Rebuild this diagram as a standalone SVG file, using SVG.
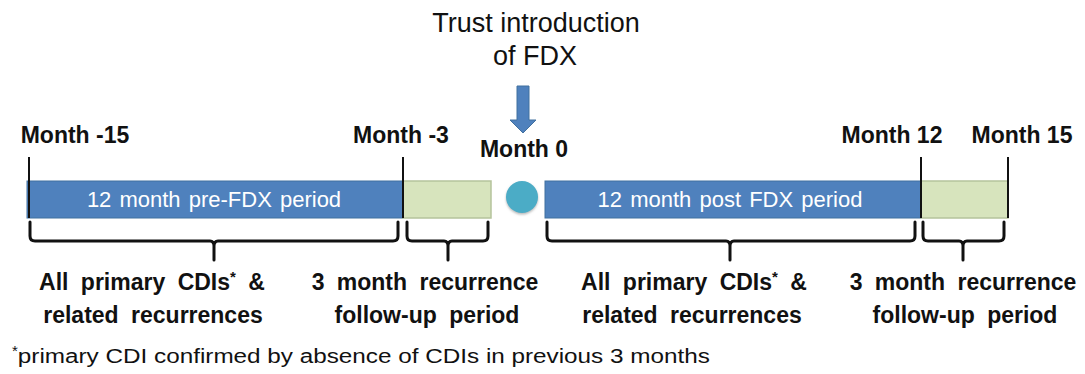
<svg xmlns="http://www.w3.org/2000/svg" width="1085" height="374" viewBox="0 0 1085 374">
<defs>
<style>
.t{font-family:"Liberation Sans",Arial,sans-serif;fill:#111}
.mo{font-size:23px;font-weight:bold;text-anchor:middle}
.lab{font-size:23px;font-weight:bold;text-anchor:middle;word-spacing:6px}
.top{font-size:27px;text-anchor:middle}
.bt{font-family:"Liberation Sans",Arial,sans-serif;font-size:22px;fill:#fff;text-anchor:middle;word-spacing:2px}
.blue{fill:#4f81bd;stroke:#41709f;stroke-width:1}
.green{fill:#d7e4bd;stroke:#b5c39c;stroke-width:1.5}
.tick{stroke:#111;stroke-width:2}
.brace{fill:none;stroke:#111;stroke-width:3;stroke-linecap:round;stroke-linejoin:round}
.sup{font-size:15px}
</style>
<filter id="sh" x="-30%" y="-30%" width="160%" height="160%">
<feDropShadow dx="0" dy="1.5" stdDeviation="1.2" flood-color="#888" flood-opacity="0.6"/>
</filter>
</defs>

<g id="title">
<text class="t top" x="536" y="32">Trust introduction</text>
<text class="t top" x="535" y="65">of FDX</text>
</g>

<g id="arrow">
<path d="M517,86 H529 V120 H536 L523,133 L510,120 H517 Z" fill="#4f81bd" stroke="#41709f" stroke-width="1"/>
</g>

<g id="month-labels">
<text class="t mo" x="75" y="143">Month -15</text>
<text class="t mo" x="401" y="143">Month -3</text>
<text class="t mo" x="524" y="157">Month 0</text>
<text class="t mo" x="892" y="143">Month 12</text>
<text class="t mo" x="1022" y="143">Month 15</text>
</g>

<g id="pre-period">
<rect class="blue" x="27" y="181" width="376" height="37"/>
<text class="bt" x="214" y="207">12 month pre-FDX period</text>
</g>
<g id="pre-followup">
<rect class="green" x="403" y="181" width="88" height="37"/>
</g>
<g id="month0">
<circle cx="522" cy="197" r="16" fill="#4bacc6" filter="url(#sh)"/>
</g>
<g id="post-period">
<rect class="blue" x="545" y="181" width="376" height="37"/>
<text class="bt" x="730" y="207">12 month post FDX period</text>
</g>
<g id="post-followup">
<rect class="green" x="921" y="181" width="87" height="37"/>
</g>

<g id="connectors">
<line class="tick" x1="29" y1="157" x2="29" y2="218"/>
<line class="tick" x1="403" y1="157" x2="403" y2="218"/>
<line class="tick" x1="921" y1="157" x2="921" y2="218"/>
<line class="tick" x1="1008" y1="157" x2="1008" y2="218"/>
<path class="brace" d="M30,222 V236 Q30,241 35,241 H210 Q214,241 214,246 V260 M214,246 Q214,241 218,241 H393 Q398,241 398,236 V222"/>
<path class="brace" d="M407,222 V236 Q407,241 412,241 H444 Q448,241 448,246 V260 M448,246 Q448,241 452,241 H483 Q488,241 488,236 V222"/>
<path class="brace" d="M547,222 V236 Q547,241 552,241 H726 Q730,241 730,246 V260 M730,246 Q730,241 734,241 H910 Q915,241 915,236 V222"/>
<path class="brace" d="M923,222 V236 Q923,241 928,241 H959 Q963,241 963,246 V260 M963,246 Q963,241 967,241 H999 Q1004,241 1004,236 V222"/>
</g>

<g id="label-pre">
<text class="t lab" x="152" y="290">All primary CDIs<tspan class="sup" dy="-8">*</tspan><tspan dy="8"> &amp;</tspan></text>
<text class="t lab" x="153" y="323">related recurrences</text>
</g>
<g id="label-pre-fu">
<text class="t lab" x="425" y="290">3 month recurrence</text>
<text class="t lab" x="427" y="323">follow-up period</text>
</g>
<g id="label-post">
<text class="t lab" x="694" y="290">All primary CDIs<tspan class="sup" dy="-8">*</tspan><tspan dy="8"> &amp;</tspan></text>
<text class="t lab" x="692" y="323">related recurrences</text>
</g>
<g id="label-post-fu">
<text class="t lab" x="963" y="290">3 month recurrence</text>
<text class="t lab" x="965" y="323">follow-up period</text>
</g>

<g id="footnote">
<text class="t" x="12" y="363" font-size="20"><tspan class="sup" dy="-7">*</tspan><tspan dy="7" textLength="692" lengthAdjust="spacingAndGlyphs">primary CDI confirmed by absence of CDIs in previous 3 months</tspan></text>
</g>
</svg>
